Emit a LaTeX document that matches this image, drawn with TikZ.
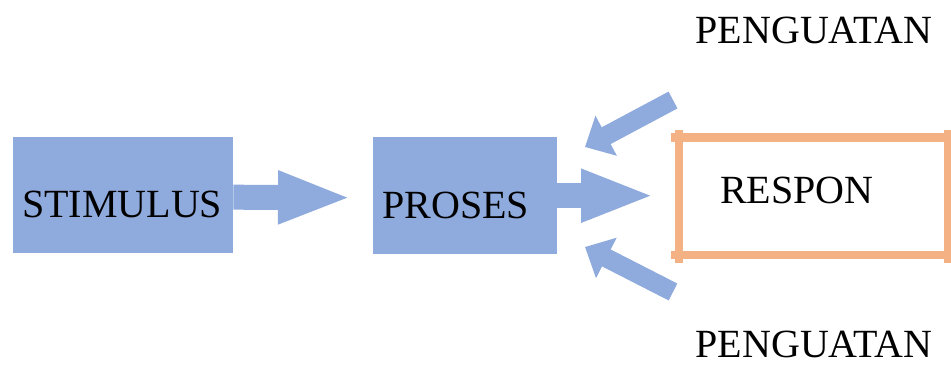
\documentclass[tikz,border=0pt]{standalone}
\usepackage{fontspec}
\setmainfont{Liberation Serif}
\usetikzlibrary{arrows.meta}
\definecolor{boxblue}{HTML}{8FAADC}
\definecolor{boxorange}{HTML}{F4B183}

\begin{document}
\begin{tikzpicture}[x=1pt,y=-1pt,font=\fontsize{40}{48}\selectfont,
  bluebox/.style={fill=boxblue,anchor=north west,inner ysep=0pt,inner xsep=9pt,align=left},
  bigarrow/.style={draw=boxblue,line width=25pt,-{Triangle[length=74pt,width=48pt]}},
  sidearrow/.style={draw=boxblue,line width=19pt,-{Triangle[length=24pt,width=44pt]}},
  responline/.style={draw=boxorange,line width=8.5pt,shorten <=-8pt,shorten >=-8pt}]
\useasboundingbox (0,0) rectangle (951,365);

\node[bluebox,text width=202pt,text height=80pt,text depth=36pt] (stimulus) at (13,137) {STIMULUS};
\node[bluebox,text width=166pt,text height=81pt,text depth=36pt] (proses) at (373,137) {PROSES};
\node[anchor=north west,inner ysep=0pt,inner xsep=41pt,text width=187pt,
  text height=65.5pt,text depth=51.5pt,align=left] (respon) at (679,137.5) {RESPON};

\foreach \a/\b in {north west/north east,north east/south east,south east/south west,south west/north west}
  \draw[responline] (respon.\a) -- (respon.\b);

\node[anchor=base,inner sep=0pt] (penguatanatas) at (814,43) {PENGUATAN};
\node[anchor=base,inner sep=0pt,text depth=0pt] (penguatanbawah) at (814,357) {PENGUATAN};

\draw[bigarrow] ([yshift=-2pt]stimulus.east) -- ([yshift=-2pt,xshift=-21pt]proses.west);
\draw[bigarrow] (proses.east) -- ([xshift=-24pt]proses.east -| respon.west);

\coordinate (ekoratas) at (673,100);
\coordinate (ujungatas) at (585,147);
\coordinate (ekorbawah) at (673,292);
\coordinate (ujungbawah) at (585,247);
\draw[sidearrow] (ekoratas) -- (ujungatas);
\draw[sidearrow] (ekorbawah) -- (ujungbawah);
\end{tikzpicture}
\end{document}
